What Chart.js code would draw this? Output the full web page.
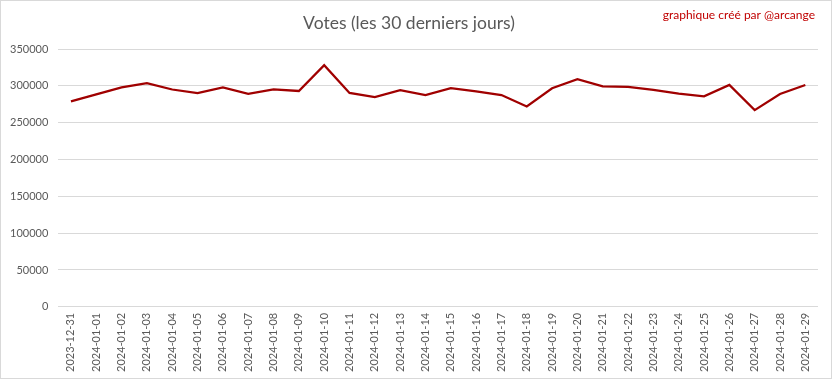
<!DOCTYPE html>
<html>
<head>
<meta charset="utf-8">
<script src="https://cdn.jsdelivr.net/npm/chart.js@4/dist/chart.umd.min.js"></script>
<style>
html,body{margin:0;padding:0;background:#fff;}
#wrap{position:relative;width:832px;height:379px;}
canvas{display:block;}
</style>
</head>
<body>
<div id="wrap"><canvas id="c" width="832" height="379"></canvas></div>
<script>
const categories = ["2023-12-31","2024-01-01","2024-01-02","2024-01-03","2024-01-04","2024-01-05","2024-01-06","2024-01-07","2024-01-08","2024-01-09","2024-01-10","2024-01-11","2024-01-12","2024-01-13","2024-01-14","2024-01-15","2024-01-16","2024-01-17","2024-01-18","2024-01-19","2024-01-20","2024-01-21","2024-01-22","2024-01-23","2024-01-24","2024-01-25","2024-01-26","2024-01-27","2024-01-28","2024-01-29"];
const votes = [279000,288500,298000,303500,295000,290000,298000,289000,295300,293000,328000,290300,284800,294000,287500,296700,292600,287500,272000,296700,309000,299400,298500,294400,289400,285700,301200,267000,289000,301200];
const yTicks = [0,50000,100000,150000,200000,250000,300000,350000];
const titleText = "Votes (les 30 derniers jours)";
const creditText = "graphique créé par @arcange";

const FONT = "Lato, 'Open Sans', sans-serif";

const deco = {
  id: 'deco',
  beforeDraw(chart) {
    const ctx = chart.ctx;
    ctx.save();
    ctx.fillStyle = '#fff';
    ctx.fillRect(0, 0, chart.width, chart.height);
    ctx.restore();
  },
  afterDraw(chart) {
    const ctx = chart.ctx;
    ctx.save();
    ctx.strokeStyle = '#d9d9d9';
    ctx.lineWidth = 1;
    ctx.strokeRect(0.5, 0.5, chart.width - 1, chart.height - 1);
    ctx.fillStyle = '#c00000';
    ctx.font = "12px " + FONT;
    ctx.textAlign = 'right';
    ctx.textBaseline = 'middle';
    ctx.fillText(creditText, 815, 15);
    ctx.restore();
  }
};

new Chart(document.getElementById('c'), {
  type: 'line',
  data: {
    labels: categories,
    datasets: [{
      data: votes,
      borderColor: '#a00000',
      borderWidth: 2.25,
      pointRadius: 0,
      tension: 0,
      fill: false
    }]
  },
  options: {
    responsive: false,
    animation: false,
    devicePixelRatio: 1,
    layout: { padding: { left: 0, right: 14, top: 6, bottom: 1 } },
    plugins: {
      legend: { display: false },
      tooltip: { enabled: false },
      title: {
        display: true,
        text: titleText,
        color: '#595959',
        font: { family: FONT, size: 17.5, weight: 'normal' },
        padding: { top: 7, bottom: 15 }
      }
    },
    scales: {
      x: {
        offset: true,
        grid: { display: false, drawTicks: false },
        border: { display: false },
        ticks: {
          color: '#595959',
          font: { family: FONT, size: 11 },
          minRotation: 90,
          maxRotation: 90,
          autoSkip: false,
          padding: 6
        }
      },
      y: {
        min: 0,
        max: 350000,
        afterBuildTicks(axis) { axis.ticks = yTicks.map(v => ({ value: v })); },
        grid: { color: '#d9d9d9', lineWidth: 1, drawTicks: false },
        border: { display: false },
        ticks: {
          color: '#595959',
          font: { family: FONT, size: 11 },
          padding: 10,
          callback: v => String(v)
        }
      }
    }
  },
  plugins: [deco]
});
</script>
</body>
</html>
